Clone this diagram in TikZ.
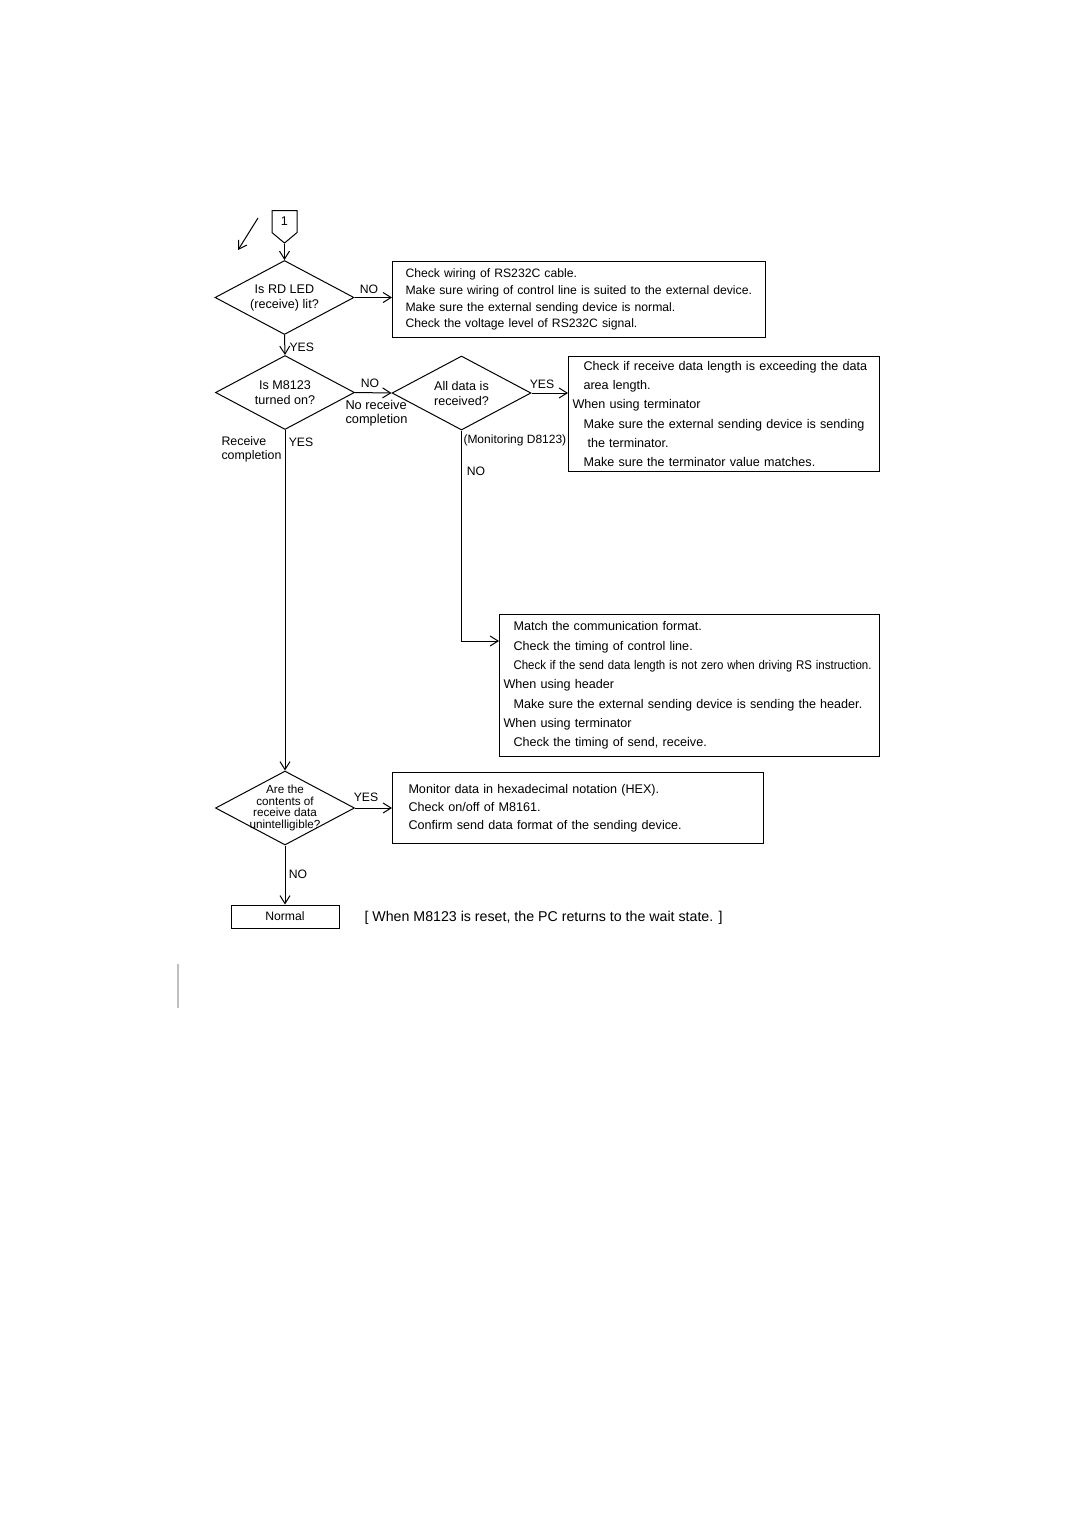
\documentclass[tikz,border=0pt]{standalone}
\usepackage{graphicx}
\usepackage{fontspec}
\setmainfont{Liberation Sans}
\usepackage{tikz}
\usetikzlibrary{shapes.geometric,shapes.symbols,arrows.meta}
\newcommand{\boxind}[1]{\hspace*{#1pt}}
\tikzset{decision/.style={
    draw=black,
    diamond, aspect=1.9, inner sep=-6pt,
    minimum width=69.5pt, minimum height=37pt,
    align=center, font=\fontsize{6.3pt}{7.5pt}\selectfont}}
\tikzset{checkbox/.style={
    draw=black,
    rectangle, anchor=north west, inner sep=0pt,
    align=left}}
\tikzset{offpage/.style={
    draw=black,
    signal, signal to=south, signal pointer angle=100,
    minimum width=12.5pt, minimum height=12.5pt, inner sep=0pt,
    font=\fontsize{6.3pt}{7pt}\selectfont}}
\tikzset{flowedge/.style={
    draw=black,
    line width=0.5pt,
    -{Straight Barb[length=4pt,width=5pt]}}}
\tikzset{answer/.style={
    inner sep=0pt,
    font=\fontsize{6.1pt}{7pt}\selectfont}}

\begin{document}
\begin{tikzpicture}[x=0.5pt,y=-0.5pt,line width=0.5pt]
\useasboundingbox (0,0) rectangle (1080,1527);
	\coordinate (S) at (284.5,210);
\coordinate (D1) at (284.5,297.5);
\coordinate (D2) at (285,392.5);
\coordinate (D3) at (461.5,393);
\coordinate (D4) at (285,808);
\coordinate (F) at (462,641);

% start connector and skew arrow
\node[offpage, anchor=north] (start) at (S) {1};
\coordinate (skewA) at (258,218);
\coordinate (skewB) at (238,250);
\path[flowedge] (skewA) -- (skewB);

% decisions
\node[decision] (rdled) at (D1) {Is RD LED\\(receive) lit?};
\node[decision] (m8123) at (D2) {Is M8123\\turned on?};
\node[decision] (alldata) at (D3) {All data is\\received?};
\node[decision, font=\fontsize{5.85pt}{5.75pt}\selectfont] (garbled) at (D4)
	{Are the\\contents of\\receive data\\unintelligible?};

% check boxes
\node[checkbox, text width=186.5pt, minimum height=38pt,
	font=\fontsize{6.1pt}{8.35pt}\selectfont] (wiring) at (392,261)
	{\boxind{6.5}Check wiring of RS232C cable.\\
	 \boxind{6.5}Make sure wiring of control line is suited to the external device.\\
	 \boxind{6.5}Make sure the external sending device is normal.\\
	 \boxind{6.5}Check the voltage level of RS232C signal.};
\node[checkbox, text width=155.5pt, minimum height=57.5pt,
	font=\fontsize{6.3pt}{9.6pt}\selectfont] (length) at (568,356)
	{\boxind{7.5}Check if receive data length is exceeding the data\\
	 \boxind{7.5}area length.\\
	 \boxind{2}When using terminator\\
	 \boxind{7.5}Make sure the external sending device is sending\\
	 \boxind{9.5}the terminator.\\
	 \boxind{7.5}Make sure the terminator value matches.};
\node[checkbox, text width=190pt, minimum height=71pt,
	font=\fontsize{6.3pt}{9.67pt}\selectfont] (format) at (499,614)
	{\boxind{7}Match the communication format.\\
	 \boxind{7}Check the timing of control line.\\
	 \boxind{7}\resizebox{179pt}{\height}{Check if the send data length is not zero when driving RS instruction.}\\
	 \boxind{2}When using header\\
	 \boxind{7}Make sure the external sending device is sending the header.\\
	 \boxind{2}When using terminator\\
	 \boxind{7}Check the timing of send, receive.};
\node[checkbox, text width=185.5pt, minimum height=35.5pt,
	font=\fontsize{6.3pt}{9pt}\selectfont] (hexdata) at (392,772)
	{\boxind{8}Monitor data in hexadecimal notation (HEX).\\
	 \boxind{8}Check on/off of M8161.\\
	 \boxind{8}Confirm send data format of the sending device.};
\node[draw=black, rectangle, inner sep=0pt, minimum width=54pt, minimum height=11.5pt,
	font=\fontsize{6.1pt}{7pt}\selectfont] (normal) at (285,916.5) {Normal};

% answers
\node[answer, anchor=west] (yes1) at (289,347) {YES};
\node[answer] (no1) at (369,289) {NO};
\node[answer] (no2) at (370,383) {NO};
\node[answer, anchor=west, align=left, font=\fontsize{6.4pt}{7pt}\selectfont] (norecv) at (345,413)
	{No receive\\completion};
\node[answer] (yes2) at (542,384) {YES};
\node[answer, anchor=west, font=\fontsize{6pt}{7pt}\selectfont] (monitor) at (463,440) {(Monitoring D8123)};
\node[answer] (no3) at (476,471) {NO};
\node[answer, anchor=west, align=left, font=\fontsize{6.2pt}{7pt}\selectfont] (recv) at (221,449) {Receive\\completion};
\node[answer] (yes3) at (301,442) {YES};
\node[answer] (yes4) at (366,797) {YES};
\node[answer] (no4) at (298,874) {NO};
\node[answer, anchor=west, font=\fontsize{7.1pt}{8pt}\selectfont] (note) at (364,918)
	{[ When M8123 is reset, the PC returns to the wait state. ]};

% flow
\path[flowedge] (start.south) -- (rdled.north);
\path[flowedge] (rdled.east) -- (wiring.west |- rdled.east);
\path[flowedge] (rdled.south) -- (m8123.north);
\path[flowedge] (m8123.east) -- (alldata.west);
\path[flowedge] (alldata.east) -- (length.west |- alldata.east);
\path[flowedge] (alldata.south) |- (format.west |- F);
\path[flowedge] (m8123.south) -- (garbled.north);
\path[flowedge] (garbled.east) -- (hexdata.west |- garbled.east);
\path[flowedge] (garbled.south) -- (normal.north);

\path[draw=black!25, line width=1pt] (178,964) -- (178,1008);
\end{tikzpicture}
\end{document}
